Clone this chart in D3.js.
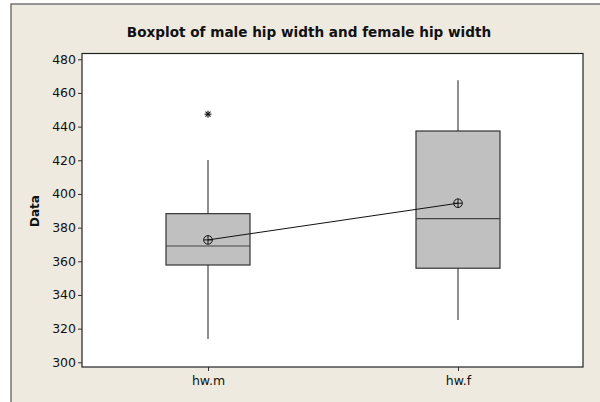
<!DOCTYPE html>
<html><head><meta charset="utf-8">
<script src="https://cdn.jsdelivr.net/npm/d3@7"></script>
<style>body{margin:0;background:#fff}svg{display:block}</style>
</head><body>
<script>
const categories = ["hw.m", "hw.f"];
const q1 = [357.8, 355.9];
const median = [369.1, 385.3];
const q3 = [388.3, 437.4];
const whiskerLow = [313.8, 325.2];
const whiskerHigh = [420.2, 467.6];
const means = [372.7, 394.5];
const outliers = [[447.4], []];
const yTicks = [300, 320, 340, 360, 380, 400, 420, 440, 460, 480];

const W = 600, H = 402;
const svg = d3.select("body").append("svg").attr("width", W).attr("height", H);
const font = "Tahoma, 'DejaVu Sans', Verdana, sans-serif";

svg.append("rect").attr("x", 11).attr("y", 4).attr("width", W + 10).attr("height", H + 10)
  .attr("fill", "#EEEAE0").attr("stroke", "#555").attr("stroke-width", 1.2);

const pl = 82, pr = 583, pt = 53.5, pb = 367;
svg.append("rect").attr("x", pl).attr("y", pt).attr("width", pr - pl).attr("height", pb - pt)
  .attr("fill", "#fff").attr("stroke", "#222").attr("stroke-width", 1.2);

const y = d3.scaleLinear().domain([300, 480]).range([362.3, 59.3]);
const x = d3.scalePoint().domain(categories).range([208, 458]);

const yAxis = svg.append("g").attr("transform", `translate(${pl},0)`)
  .call(d3.axisLeft(y).tickValues(yTicks).tickSize(4).tickPadding(2));
yAxis.select(".domain").remove();
yAxis.selectAll("text").attr("font-family", font).attr("font-size", 12.5).attr("fill", "#111");
yAxis.selectAll("line").attr("stroke", "#333");

const xAxis = svg.append("g").attr("transform", `translate(0,${pb})`)
  .call(d3.axisBottom(x).tickSize(4).tickPadding(5));
xAxis.select(".domain").remove();
xAxis.selectAll("text").attr("font-family", font).attr("font-size", 12.5).attr("fill", "#111");
xAxis.selectAll("line").attr("stroke", "#333");

svg.append("text").attr("x", 309).attr("y", 37).attr("text-anchor", "middle")
  .attr("font-family", font).attr("font-weight", "bold").attr("font-size", 13.6).attr("fill", "#111")
  .text("Boxplot of male hip width and female hip width");

svg.append("text").attr("transform", "translate(39,211) rotate(-90)").attr("text-anchor", "middle")
  .attr("font-family", font).attr("font-weight", "bold").attr("font-size", 12).attr("fill", "#111")
  .text("Data");

const bw = 84;
categories.forEach((c, i) => {
  const cx = x(c);
  const g = svg.append("g");
  g.append("line").attr("x1", cx).attr("x2", cx).attr("y1", y(whiskerHigh[i])).attr("y2", y(q3[i]))
    .attr("stroke", "#444").attr("stroke-width", 1.2);
  g.append("line").attr("x1", cx).attr("x2", cx).attr("y1", y(q1[i])).attr("y2", y(whiskerLow[i]))
    .attr("stroke", "#444").attr("stroke-width", 1.2);
  g.append("rect").attr("x", cx - bw / 2).attr("y", y(q3[i])).attr("width", bw)
    .attr("height", y(q1[i]) - y(q3[i])).attr("fill", "#C0C0C0").attr("stroke", "#333").attr("stroke-width", 1.2);
  g.append("line").attr("x1", cx - bw / 2).attr("x2", cx + bw / 2).attr("y1", y(median[i])).attr("y2", y(median[i]))
    .attr("stroke", "#444").attr("stroke-width", 1.2);
  outliers[i].forEach(v => {
    const oy = y(v);
    const s = svg.append("g").attr("transform", `translate(${cx},${oy})`);
    [0, 45, 90, 135].forEach(a => {
      s.append("line").attr("x1", 0).attr("y1", -3.5).attr("x2", 0).attr("y2", 3.5)
        .attr("transform", `rotate(${a})`).attr("stroke", "#111").attr("stroke-width", 1.1);
    });
  });
});

const line = d3.line().x((d, i) => x(categories[i])).y(d => y(d));
svg.append("path").datum(means).attr("d", line).attr("fill", "none").attr("stroke", "#111").attr("stroke-width", 1);

means.forEach((m, i) => {
  const g = svg.append("g").attr("transform", `translate(${x(categories[i])},${y(m)})`);
  g.append("circle").attr("r", 4.3).attr("fill", "none").attr("stroke", "#111").attr("stroke-width", 1);
  g.append("line").attr("x1", -4.3).attr("x2", 4.3).attr("stroke", "#111").attr("stroke-width", 1);
  g.append("line").attr("y1", -4.3).attr("y2", 4.3).attr("stroke", "#111").attr("stroke-width", 1);
});
</script>
</body></html>
